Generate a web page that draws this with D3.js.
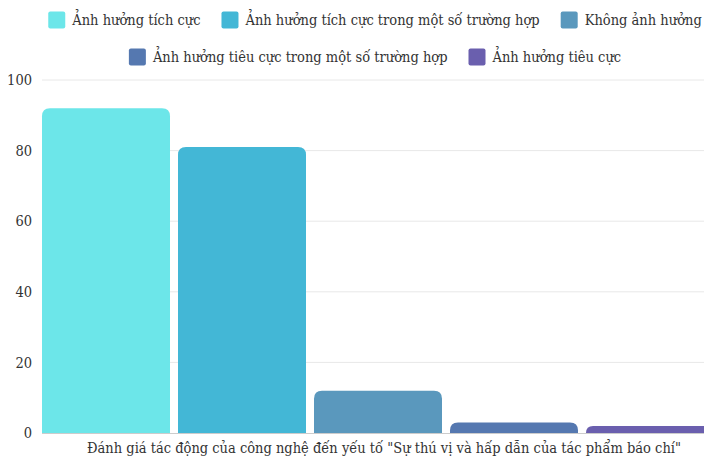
<!DOCTYPE html>
<html>
<head>
<meta charset="utf-8">
<script src="https://cdn.jsdelivr.net/npm/d3@7"></script>
<style>
  html, body { margin: 0; padding: 0; background: #ffffff; }
  svg { display: block; }
  svg text { font-family: "DejaVu Serif Condensed", "DejaVu Serif", "Liberation Serif", serif; }
</style>
</head>
<body>
<svg id="chart" width="704" height="457"></svg>
<script>
// Response categories (also the legend entries)
const categories = [
  "Ảnh hưởng tích cực",
  "Ảnh hưởng tích cực trong một số trường hợp",
  "Không ảnh hưởng",
  "Ảnh hưởng tiêu cực trong một số trường hợp",
  "Ảnh hưởng tiêu cực"
];
const values = [92, 81, 12, 3, 2];
const colors = ["#6ce6e9", "#43b7d6", "#5a98bd", "#5578b0", "#6a5fae"];
const yTicks = [0, 20, 40, 60, 80, 100];
const xTitle = "Đánh giá tác động của công nghệ đến yếu tố \"Sự thú vị và hấp dẫn của tác phẩm báo chí\"";

const svg = d3.select("#chart");
const W = 704, H = 457;
const plotL = 38, plotR = 718, plotT = 80, plotB = 433;
const FONT = 14.5;

const x = d3.scaleBand().domain(categories).range([plotL, plotR]).paddingInner(8 / 136).paddingOuter(4 / 136);
const y = d3.scaleLinear().domain([0, 100]).range([plotB, plotT]);

// Gridlines
svg.append("g")
  .selectAll("line")
  .data(yTicks.filter(d => d > 0))
  .join("line")
  .attr("x1", plotL + 4).attr("x2", W)
  .attr("y1", d => y(d)).attr("y2", d => y(d))
  .attr("stroke", "#e8e8e8").attr("stroke-width", 1);

// Y axis labels
const yAxis = d3.axisLeft(y).tickValues(yTicks).tickSize(0).tickPadding(0);
const gy = svg.append("g").attr("transform", `translate(${plotL - 6},0)`).call(yAxis);
gy.attr("font-family", null);
gy.select(".domain").remove();
gy.selectAll("text")
  .attr("font-size", FONT)
  .attr("fill", "#333");

// Bars with rounded tops
const r = 8;
function barPath(x0, w, yTop, yBot) {
  const rr = Math.min(r, (yBot - yTop), w / 2);
  return `M${x0},${yBot}V${yTop + rr}Q${x0},${yTop} ${x0 + rr},${yTop}H${x0 + w - rr}Q${x0 + w},${yTop} ${x0 + w},${yTop + rr}V${yBot}Z`;
}
svg.append("g")
  .selectAll("path")
  .data(categories)
  .join("path")
  .attr("d", (c, i) => barPath(x(c), x.bandwidth(), y(values[i]), y(0)))
  .attr("fill", (c, i) => colors[i]);

// Baseline
svg.append("line")
  .attr("x1", plotL + 4).attr("x2", W)
  .attr("y1", y(0) + 0.5).attr("y2", y(0) + 0.5)
  .attr("stroke", "#cccccc");

// X title
svg.append("text")
  .attr("x", 384).attr("y", 453)
  .attr("text-anchor", "middle")
  .attr("font-size", FONT)
  .attr("fill", "#333")
  .text(xTitle);

// Legend: two centred rows
const legendRows = [[0, 1, 2], [3, 4]];
const rowY = [20, 57];
const sw = 17, gapText = 7, gapItem = 21, cx = 375;
legendRows.forEach((row, ri) => {
  const g = svg.append("g");
  const items = row.map(i => {
    const it = g.append("g");
    it.append("rect").attr("width", sw).attr("height", sw).attr("rx", 2)
      .attr("y", -sw / 2).attr("fill", colors[i]);
    const t = it.append("text").attr("x", sw + gapText).attr("dy", "0.35em")
      .attr("font-size", FONT).attr("fill", "#333").text(categories[i]);
    return { it, w: sw + gapText + t.node().getComputedTextLength() };
  });
  const total = d3.sum(items, d => d.w) + gapItem * (items.length - 1);
  let cur = cx - total / 2;
  items.forEach(d => {
    d.it.attr("transform", `translate(${cur},${rowY[ri]})`);
    cur += d.w + gapItem;
  });
});
</script>
</body>
</html>
